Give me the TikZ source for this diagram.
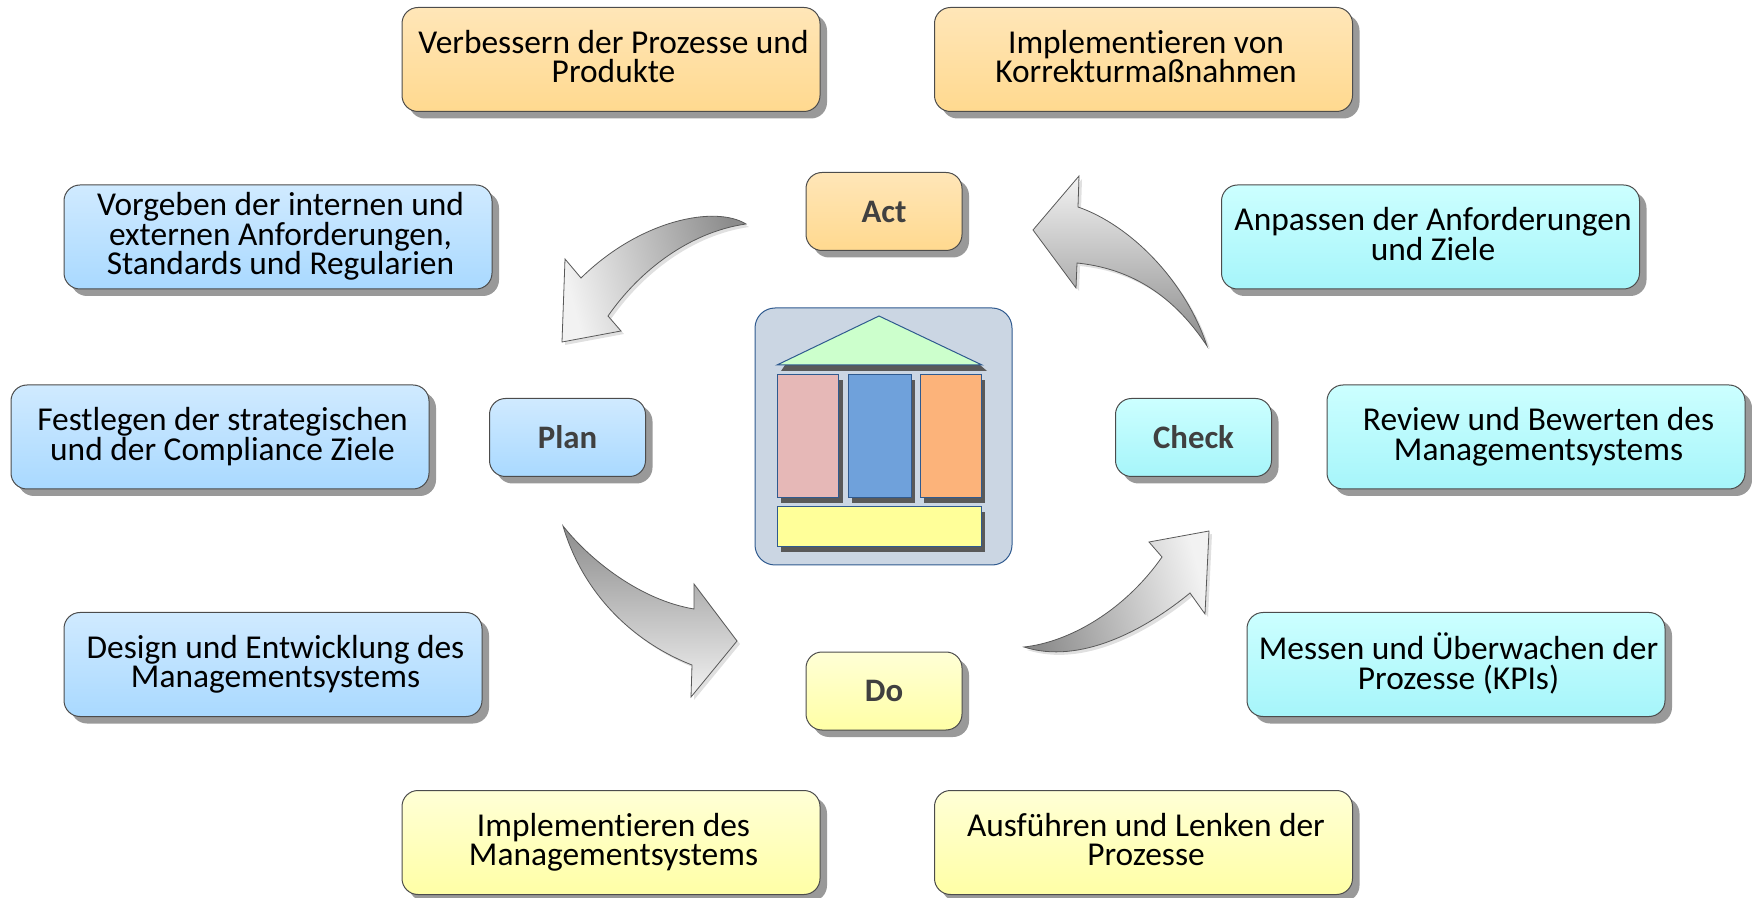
\documentclass[tikz,border=0pt]{standalone}
\usepackage{fontspec}
\setmainfont{Carlito}[Ligatures=NoCommon]
\usetikzlibrary{shadows}

\definecolor{actA}{HTML}{FFE6B8}
\definecolor{actB}{HTML}{FFD98F}
\definecolor{planA}{HTML}{D0EAFF}
\definecolor{planB}{HTML}{A9D9FF}
\definecolor{checkA}{HTML}{CCFFFF}
\definecolor{checkB}{HTML}{A6F5FA}
\definecolor{doA}{HTML}{FFFFD6}
\definecolor{doB}{HTML}{FFFFA6}
\definecolor{hausblue}{HTML}{2F5A8F}

\tikzset{
    basebox/.style={draw=black!70, line width=0.5pt, rounded corners=8pt, inner sep=0pt, align=center,
        drop shadow={shadow xshift=3.5pt, shadow yshift=-3.5pt, fill=black!40, opacity=1}},
    taskbox/.style={basebox, minimum width=209pt, minimum height=52pt, align=none, text width=209pt,
        font=\fontsize{16.7}{14.8}\selectfont,
        execute at begin node={\let\\\par\parindent=0pt\leftskip=2.5pt plus 1fil\rightskip=0pt plus 1fil\parfillskip=0pt\rule{0pt}{10pt}},
        execute at end node={\rule[-3.2pt]{0pt}{1pt}}},
    phasebox/.style={basebox, minimum width=78pt, minimum height=39pt, text=black!75,
        font=\fontsize{16.4}{17}\selectfont\bfseries},
    actfill/.style={top color=actA, bottom color=actB},
    planfill/.style={top color=planA, bottom color=planB},
    checkfill/.style={top color=checkA, bottom color=checkB},
    dofill/.style={top color=doA, bottom color=doB},
    hauspart/.style={draw=hausblue, line width=0.5pt,
        drop shadow={shadow xshift=2pt, shadow yshift=-2.5pt, fill=black!65, opacity=1}},
    cyclearrow/.style={draw=black!65, line width=0.4pt,
        drop shadow={shadow xshift=1.5pt, shadow yshift=-1.5pt, fill=black!12, opacity=1}},
}

\begin{document}
\begin{tikzpicture}[x=0.5pt, y=-0.5pt]
    \useasboundingbox (0,0) rectangle (1752,898);

    \node[taskbox, actfill] (VP) at (611,59.5) {Verbessern der Prozesse und\\Produkte};
    \node[taskbox, actfill] (IK) at (1143.5,59.5) {Implementieren von\\Korrekturmaßnahmen};
    \node[taskbox, planfill, minimum width=214pt, text width=214pt] (VA) at (278,237) {Vorgeben der internen und\\externen Anforderungen,\\Standards und Regularien};
    \node[taskbox, checkfill] (AA) at (1430.5,237) {Anpassen der Anforderungen\\und Ziele};
    \node[taskbox, planfill] (FZ) at (220,437) {Festlegen der strategischen\\und der Compliance Ziele};
    \node[taskbox, checkfill] (RB) at (1536,437) {Review und Bewerten des\\Managementsystems};
    \node[taskbox, planfill] (DE) at (273,664.5) {Design und Entwicklung des\\Managementsystems};
    \node[taskbox, checkfill] (MU) at (1456,664.5) {Messen und Überwachen der\\Prozesse (KPIs)};
    \node[taskbox, dofill] (IM) at (611,842.5) {Implementieren des\\Managementsystems};
    \node[taskbox, dofill] (AL) at (1143.5,842.5) {Ausführen und Lenken der\\Prozesse};

    \node[phasebox, actfill] (Act) at (884,211.5) {Act};
    \node[phasebox, planfill] (Plan) at (567.5,437.5) {Plan};
    \node[phasebox, checkfill] (Check) at (1193.5,437.5) {Check};
    \node[phasebox, dofill] (Do) at (884,691) {Do};

    % house in the middle
    \draw[draw=hausblue, line width=0.5pt, fill=hausblue!25, rounded corners=10pt] (755,308) rectangle (1012,565);
    \fill[black!65] (785,365) -- (980,365) -- (987,371) -- (781,371) -- cycle;
    \draw[draw=hausblue, line width=0.5pt, fill={rgb,255:red,204;green,255;blue,204}] (777,365) -- (879,316) -- (982,365) -- cycle;
    \draw[hauspart, fill={rgb,255:red,230;green,184;blue,183}] (777,375) rectangle (838.5,498);
    \draw[hauspart, fill={rgb,255:red,111;green,161;blue,219}] (848,375) rectangle (911,498);
    \draw[hauspart, fill={rgb,255:red,252;green,179;blue,122}] (920,375) rectangle (981,498);
    \draw[hauspart, fill={rgb,255:red,255;green,255;blue,153}] (777,507) rectangle (981,547);

    % block arrows of the cycle
    \path[cyclearrow, left color=black!5, right color=black!45, shading angle=105]
        (746,224) .. controls (715,205) and (640,220) .. (581,278) -- (565,259) -- (562,342) -- (621,331) -- (608,316)
        .. controls (640,270) and (690,232) .. (746,224) -- cycle;
    \path[cyclearrow, top color=black!5, bottom color=black!45]
        (1207,346) .. controls (1185,280) and (1130,225) .. (1078,207) -- (1079,176) -- (1033,230) -- (1076,288) -- (1077,263)
        .. controls (1125,268) and (1170,290) .. (1207,346) -- cycle;
    \path[cyclearrow, top color=black!45, bottom color=black!5]
        (563,526) .. controls (590,560) and (640,600) .. (694,609) -- (694,584) -- (737,641) -- (691,697) -- (692,665)
        .. controls (640,645) and (585,600) .. (563,526) -- cycle;
    \path[cyclearrow, left color=black!45, right color=black!5, shading angle=105]
        (1024,647) .. controls (1070,642) and (1125,610) .. (1162,557) -- (1149,542) -- (1209,531) -- (1205,614) -- (1190,593)
        .. controls (1145,630) and (1080,665) .. (1024,647) -- cycle;
\end{tikzpicture}
\end{document}
